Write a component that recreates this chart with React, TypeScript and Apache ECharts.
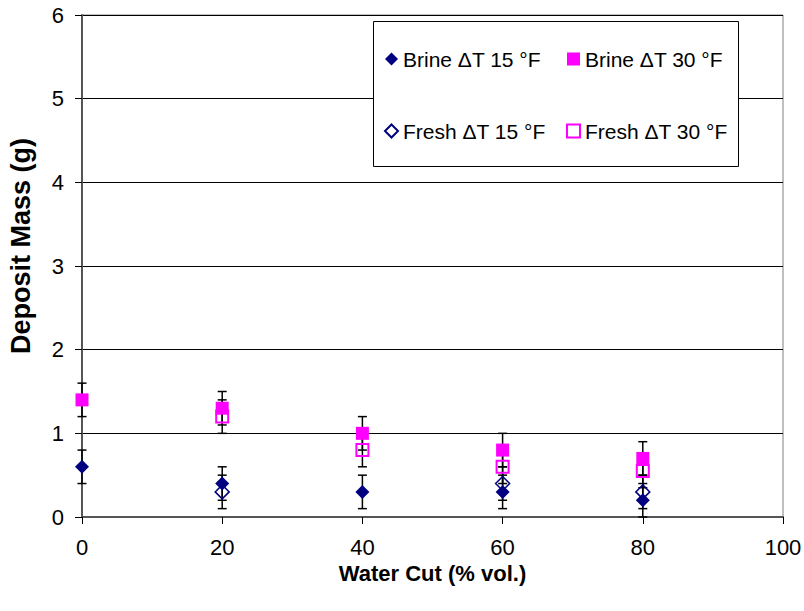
import React, { useEffect, useRef } from "react";
import * as echarts from "echarts";

const xBrine = [0, 20, 40, 60, 80];
const brine15 = [0.6, 0.4, 0.3, 0.3, 0.2];
const brine15Err = [0.2, 0.2, 0.2, 0.2, 0.2];
const brine30 = [1.4, 1.3, 1.0, 0.8, 0.7];
const brine30Err = [0.2, 0.2, 0.2, 0.2, 0.2];
const xFresh15 = [20, 60, 80];
const fresh15 = [0.3, 0.4, 0.3];
const fresh15Err = [0.2, 0.2, 0.2];
const xFresh30 = [20, 40, 60, 80];
const fresh30 = [1.2, 0.8, 0.6, 0.55];
const fresh30Err = [0.2, 0.2, 0.2, 0.2];

const NAVY = "#000080";
const MAGENTA = "#FF00FF";
const FONT = "Arial, 'Liberation Sans', sans-serif";

function pts(xs: number[], ys: number[]) {
  return xs.map((x, i) => [x, ys[i]]);
}
function errs(xs: number[], ys: number[], es: number[]) {
  return xs.map((x, i) => [x, ys[i] - es[i], ys[i] + es[i]]);
}

const errRender = (params: any, api: any) => {
  const x = api.value(0);
  const lo = api.coord([x, api.value(1)]);
  const hi = api.coord([x, api.value(2)]);
  const hw = 4.5;
  const style = { stroke: "#000", lineWidth: 1.5 };
  return {
    type: "group",
    children: [
      { type: "line", shape: { x1: lo[0], y1: lo[1], x2: hi[0], y2: hi[1] }, style },
      { type: "line", shape: { x1: lo[0] - hw, y1: lo[1], x2: lo[0] + hw, y2: lo[1] }, style },
      { type: "line", shape: { x1: hi[0] - hw, y1: hi[1], x2: hi[0] + hw, y2: hi[1] }, style },
    ],
  };
};

export default function App() {
  const ref = useRef<HTMLDivElement>(null);
  useEffect(() => {
    if (!ref.current) return;
    const chart = echarts.init(ref.current, null, { renderer: "svg" });
    const errSeries = (data: number[][]) => ({
      type: "custom",
      renderItem: errRender,
      data,
      encode: { x: 0, y: [1, 2] },
      z: 1,
      silent: true,
      legendHoverLink: false,
    });
    const legendText = { fontSize: 21, lineHeight: 22, color: "#000", fontFamily: FONT };
    const option: any = {
      animation: false,
      backgroundColor: "#fff",
      textStyle: { fontFamily: FONT },
      grid: {
        left: 82,
        right: 21,
        top: 15,
        bottom: 94,
        show: true,
        borderColor: "#808080",
        borderWidth: 1,
        containLabel: false,
        outerBoundsMode: "none",
      },
      xAxis: {
        type: "value",
        min: 0,
        max: 100,
        interval: 20,
        name: "Water Cut (% vol.)",
        nameLocation: "middle",
        nameGap: 46,
        nameMoveOverlap: false,
        nameTextStyle: {
          fontSize: 22,
          lineHeight: 20,
          fontWeight: "bold",
          color: "#000",
          fontFamily: FONT,
        },
        axisLine: { show: true, onZero: false, lineStyle: { color: "#555", width: 2 } },
        axisTick: { show: true, inside: false, length: 7, lineStyle: { color: "#000", width: 1 } },
        axisLabel: { fontSize: 22, lineHeight: 20, color: "#000", margin: 20, fontFamily: FONT },
        splitLine: { show: false },
      },
      yAxis: {
        type: "value",
        min: 0,
        max: 6,
        interval: 1,
        name: "Deposit Mass (g)",
        nameLocation: "middle",
        nameRotate: 90,
        nameGap: 48,
        nameMoveOverlap: false,
        nameTextStyle: {
          fontSize: 27,
          fontWeight: "bold",
          color: "#000",
          fontFamily: FONT,
          padding: [0, 0, 0, 40],
        },
        axisLine: { show: true, onZero: false, lineStyle: { color: "#555", width: 2 } },
        axisTick: { show: true, inside: false, length: 7, lineStyle: { color: "#000", width: 1 } },
        axisLabel: { fontSize: 22, color: "#000", margin: 18, fontFamily: FONT },
        splitLine: { show: true, lineStyle: { color: "#000", width: 1 } },
      },
      graphic: [
        {
          type: "rect",
          z: 3,
          shape: { x: 373.5, y: 21.5, width: 365, height: 145 },
          style: { fill: "#fff", stroke: "#000", lineWidth: 1 },
        },
      ],
      legend: [
        {
          orient: "vertical",
          left: 384,
          top: 48,
          padding: 0,
          itemWidth: 13,
          itemHeight: 13,
          itemGap: 50,
          z: 5,
          data: ["Brine \u0394T 15 \u00B0F", "Fresh \u0394T 15 \u00B0F"],
          textStyle: legendText,
        },
        {
          orient: "vertical",
          left: 566,
          top: 48,
          padding: 0,
          itemWidth: 13,
          itemHeight: 13,
          itemGap: 50,
          z: 5,
          data: ["Brine \u0394T 30 \u00B0F", "Fresh \u0394T 30 \u00B0F"],
          textStyle: legendText,
        },
      ],
      series: [
        errSeries(errs(xBrine, brine15, brine15Err)),
        errSeries(errs(xBrine, brine30, brine30Err)),
        errSeries(errs(xFresh15, fresh15, fresh15Err)),
        errSeries(errs(xFresh30, fresh30, fresh30Err)),
        {
          name: "Fresh \u0394T 15 \u00B0F",
          type: "scatter",
          symbol: "diamond",
          symbolSize: 14,
          z: 2,
          data: pts(xFresh15, fresh15),
          itemStyle: { color: "rgba(255,255,255,0)", borderColor: NAVY, borderWidth: 1.5, opacity: 1 },
        },
        {
          name: "Fresh \u0394T 30 \u00B0F",
          type: "scatter",
          symbol: "rect",
          symbolSize: 12,
          z: 2,
          data: pts(xFresh30, fresh30),
          itemStyle: { color: "rgba(255,255,255,0)", borderColor: MAGENTA, borderWidth: 2, opacity: 1 },
        },
        {
          name: "Brine \u0394T 15 \u00B0F",
          type: "scatter",
          symbol: "diamond",
          symbolSize: 14,
          z: 3,
          data: pts(xBrine, brine15),
          itemStyle: { color: NAVY, opacity: 1 },
        },
        {
          name: "Brine \u0394T 30 \u00B0F",
          type: "scatter",
          symbol: "rect",
          symbolSize: 13,
          z: 3,
          data: pts(xBrine, brine30),
          itemStyle: { color: MAGENTA, opacity: 1 },
        },
      ],
    };
    chart.setOption(option);
    return () => chart.dispose();
  }, []);
  return (
    <div
      ref={ref}
      style={{ position: "absolute", left: 0, top: 0, width: 804, height: 611 }}
    />
  );
}
